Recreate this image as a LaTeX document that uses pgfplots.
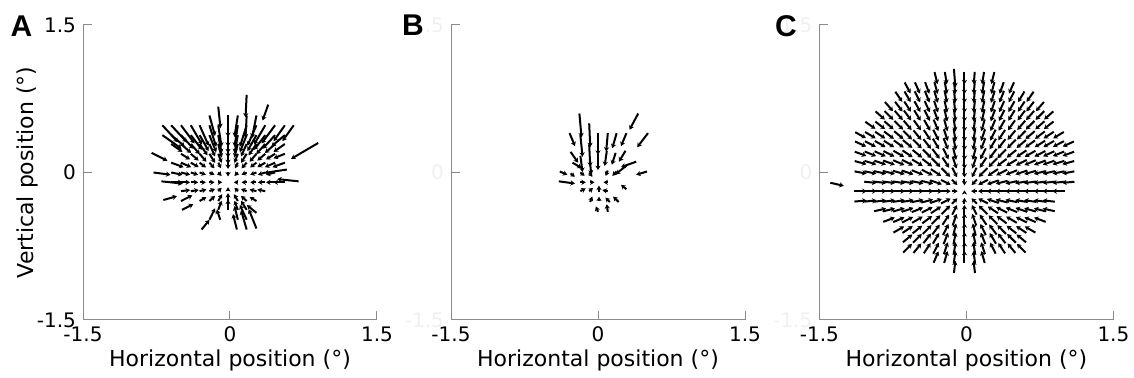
\documentclass[border=0pt]{standalone}
\usepackage{pgfplots}
\pgfplotsset{compat=1.18}
\usepackage{fontspec}
\setmainfont{DejaVu Sans}
\newfontfamily\labfont{Liberation Sans}
\usetikzlibrary{arrows.meta}
\definecolor{axgray}{gray}{0.55}
\pgfplotsset{panel/.style={
  scale only axis, width=147pt, height=147.5pt,
  xmin=-1.5, xmax=1.5, ymin=-1.5, ymax=1.5,
  axis x line*=bottom, axis y line*=left,
  axis line style={draw=axgray, line width=0.5pt},
  xtick={-1.5,0,1.5}, ytick={-1.5,0,1.5},
  xticklabels={-1.5,0,1.5}, yticklabels={-1.5,0,1.5},
  tick align=inside, major tick length=4.5pt,
  tick style={draw=axgray, line width=0.5pt},
  tick label style={font=\fontsize{10}{12}\selectfont},
  xlabel={Horizontal position (°)},
  xlabel style={font=\fontsize{11}{13}\selectfont, at={(rel axis cs:0.5,0)}, anchor=center, yshift=-20pt},
  anchor=south west,
},
arr/.style={black, line width=1pt, -{Stealth[length=2.2pt,width=2.6pt]}},
faint/.style={yticklabel style={text=black!6}}}
\begin{document}
\begin{tikzpicture}
\useasboundingbox (0,0) rectangle (567pt,189pt);
% ---------------- A ----------------
\begin{axis}[panel, at={(41.5pt,29pt)},
  ylabel={Vertical position (°)},
  ylabel style={font=\fontsize{11}{13}\selectfont, at={(rel axis cs:0,0.5)}, anchor=center, yshift=28pt}]
\addplot[arr, quiver={u=\thisrow{u}, v=\thisrow{v}, scale arrows=1.15}] table {
x y u v
0.17 0.79 -0.01 -0.20
0.39 0.69 -0.05 -0.14
-0.21 0.58 0.05 -0.18
-0.12 0.67 0.02 -0.19
-0.02 0.58 0 -0.19
0.08 0.58 -0.03 -0.19
0.17 0.58 -0.01 -0.20
0.27 0.58 -0.04 -0.20
-0.69 0.48 0.14 -0.15
-0.60 0.48 0.14 -0.15
-0.50 0.48 0.12 -0.16
-0.40 0.48 0.10 -0.17
-0.31 0.48 0.08 -0.18
-0.21 0.48 0.06 -0.19
-0.12 0.48 0.03 -0.19
-0.02 0.48 0 -0.19
0.08 0.48 -0.03 -0.19
0.17 0.48 -0.06 -0.19
0.27 0.48 -0.08 -0.18
0.36 0.48 -0.10 -0.17
0.46 0.48 -0.12 -0.16
0.56 0.48 -0.10 -0.14
0.65 0.48 -0.10 -0.14
-0.69 0.38 0.17 -0.12
-0.60 0.38 0.12 -0.10
-0.50 0.38 0.11 -0.12
-0.40 0.38 0.10 -0.13
-0.31 0.38 0.08 -0.14
-0.21 0.38 0.06 -0.15
-0.12 0.38 0.03 -0.16
-0.02 0.38 0 -0.16
0.08 0.38 -0.03 -0.16
0.17 0.38 -0.06 -0.15
0.27 0.38 -0.08 -0.14
0.36 0.38 -0.10 -0.13
0.46 0.38 -0.11 -0.12
0.56 0.38 -0.12 -0.10
-0.60 0.29 0.10 -0.07
-0.50 0.29 0.09 -0.08
-0.40 0.29 0.08 -0.09
-0.31 0.29 0.07 -0.10
-0.21 0.29 0.05 -0.11
-0.12 0.29 0.03 -0.12
-0.02 0.29 0 -0.12
0.08 0.29 -0.03 -0.12
0.17 0.29 -0.05 -0.11
0.27 0.29 -0.07 -0.10
0.36 0.29 -0.08 -0.09
0.46 0.29 -0.09 -0.08
0.56 0.29 -0.10 -0.07
0.90 0.30 -0.24 -0.14
-0.80 0.20 0.14 -0.07
-0.50 0.19 0.08 -0.05
-0.40 0.19 0.07 -0.06
-0.31 0.19 0.06 -0.07
-0.21 0.19 0.05 -0.08
-0.12 0.19 0.03 -0.08
-0.02 0.19 0 -0.09
0.08 0.19 -0.03 -0.08
0.17 0.19 -0.05 -0.08
0.27 0.19 -0.06 -0.07
0.36 0.19 -0.07 -0.06
0.46 0.19 -0.08 -0.05
0.56 0.19 -0.10 -0.04
-0.60 0.10 0.11 -0.04
-0.50 0.10 0.09 -0.04
-0.40 0.10 0.07 -0.04
-0.31 0.10 0.056 -0.042
-0.21 0.10 0.045 -0.05
-0.12 0.10 0.025 -0.05
-0.02 0.10 0 -0.055
0.08 0.10 -0.025 -0.05
0.17 0.10 -0.045 -0.05
0.27 0.10 -0.056 -0.042
0.36 0.10 -0.07 -0.04
0.46 0.10 -0.09 -0.04
0.56 0.10 -0.11 -0.04
-0.78 0 0.15 -0.02
-0.60 0 0.10 -0.02
-0.50 0 0.08 -0.02
-0.40 0 0.065 -0.02
-0.31 0 0.055 -0.02
-0.21 0 0.045 -0.02
-0.12 0 0.03 -0.03
-0.02 0 0 -0.035
0.08 0 -0.03 -0.03
0.17 0 -0.045 -0.02
0.27 0 -0.055 -0.02
0.36 0 -0.065 -0.02
0.46 0 -0.08 -0.02
0.58 0.03 -0.20 -0.03
-0.70 -0.09 0.19 -0.02
-0.60 -0.10 0.10 0
-0.50 -0.10 0.08 0
-0.40 -0.10 0.065 0
-0.31 -0.10 0.055 0
-0.21 -0.10 0.045 0
-0.12 -0.10 0.035 0
0.08 -0.10 -0.035 0
0.17 -0.10 -0.045 0
0.27 -0.10 -0.055 0
0.36 -0.10 -0.065 0
0.46 -0.10 -0.08 0
0.56 -0.10 -0.10 0
0.70 -0.09 -0.19 0.02
-0.50 -0.19 0.08 0.01
-0.40 -0.19 0.07 0.01
-0.31 -0.19 0.06 0.015
-0.21 -0.19 0.05 0.02
-0.12 -0.19 0.03 0.03
-0.02 -0.19 0 0.035
0.08 -0.19 -0.03 0.03
0.17 -0.19 -0.05 0.02
0.27 -0.19 -0.06 0.015
0.36 -0.19 -0.07 0.015
-0.68 -0.28 0.12 0.034
-0.50 -0.29 0.10 0.05
-0.31 -0.29 0.06 0.035
-0.21 -0.29 0.05 0.045
-0.12 -0.29 0.035 0.06
-0.02 -0.29 0 0.07
0.08 -0.29 -0.035 0.06
0.17 -0.29 -0.05 0.045
0.27 -0.29 -0.06 0.035
-0.49 -0.38 0.10 0.05
-0.12 -0.38 0.03 0.08
-0.02 -0.38 0 0.09
0.08 -0.38 -0.03 0.08
0.17 -0.38 -0.05 0.08
0.27 -0.41 -0.085 0.068
-0.21 -0.48 0.05 0.10
-0.10 -0.48 -0.03 0.09
0.08 -0.48 -0.03 0.12
0.17 -0.48 -0.06 0.13
-0.29 -0.58 0.07 0.085
0.07 -0.58 -0.034 0.136
0.17 -0.58 -0.05 0.17
0.27 -0.57 -0.068 0.17
};
\end{axis}
% ---------------- B ----------------
\begin{axis}[panel, faint, at={(225.5pt,29pt)}]
\addplot[arr, quiver={u=\thisrow{u}, v=\thisrow{v}, scale arrows=1.1}] table {
x y u v
-0.19 0.60 0.02 -0.22
-0.18 0.38 0.02 -0.20
-0.18 0.17 0.02 -0.15
-0.09 0.50 0.01 -0.22
-0.09 0.28 0.01 -0.20
-0.08 0.09 0.01 -0.10
0.00 0.40 0 -0.20
0.00 0.19 0 -0.15
0.10 0.40 -0.015 -0.17
0.09 0.22 -0.02 -0.14
0.19 0.40 -0.04 -0.14
0.18 0.20 -0.035 -0.11
0.29 0.40 -0.05 -0.12
0.28 0.22 -0.06 -0.10
0.41 0.60 -0.08 -0.15
0.51 0.40 -0.10 -0.13
-0.29 0.40 0.05 -0.12
-0.28 0.21 0.07 -0.10
-0.26 0.10 0.085 -0.05
-0.39 0.01 0.07 -0.03
-0.40 -0.09 0.15 -0.02
-0.28 -0.01 0.04 -0.03
-0.18 -0.10 0.05 0
-0.18 0.00 0.04 -0.03
-0.09 0.00 0.03 -0.04
-0.08 -0.10 0.04 0
0.39 0.11 -0.14 -0.05
0.29 0.07 -0.10 -0.08
0.50 0.01 -0.10 -0.03
0.19 0.01 -0.04 -0.04
0.10 0.02 -0.02 -0.05
0.10 -0.10 -0.04 0
-0.18 -0.19 0.05 0.025
-0.09 -0.19 0.035 0.03
0.01 -0.20 0 0.06
0.10 -0.19 -0.05 0.01
0.29 -0.17 -0.05 0.04
-0.08 -0.30 0.02 0.05
0.01 -0.29 0 0.04
0.12 -0.30 -0.04 0.04
0.21 -0.30 -0.05 0.05
0.00 -0.40 -0.02 0.05
0.10 -0.40 -0.01 0.07
};
\end{axis}
% ---------------- C ----------------
\begin{axis}[panel, faint, at={(409.7pt,29pt)}]
\addplot[arr, quiver={u=\thisrow{u}, v=\thisrow{v}, scale arrows=1.25}] table[x expr=\thisrow{x}-0.625*\thisrow{u}, y expr=\thisrow{y}-0.625*\thisrow{v}] {
x y u v
-0.31 0.96 0.024 -0.097
-0.21 0.96 0.016 -0.099
-0.12 0.96 0.012 -0.150
-0.02 0.96 0 -0.100
0.08 0.96 -0.008 -0.100
0.17 0.96 -0.016 -0.099
0.27 0.96 -0.024 -0.097
-0.60 0.86 0.048 -0.088
-0.50 0.86 0.041 -0.091
-0.40 0.86 0.034 -0.094
-0.31 0.86 0.026 -0.096
-0.21 0.86 0.018 -0.098
-0.12 0.86 0.009 -0.100
-0.02 0.86 0 -0.100
0.08 0.86 -0.009 -0.100
0.17 0.86 -0.018 -0.098
0.27 0.86 -0.026 -0.096
0.36 0.86 -0.034 -0.094
0.46 0.86 -0.041 -0.091
-0.69 0.77 0.057 -0.082
-0.60 0.77 0.051 -0.086
-0.50 0.77 0.045 -0.089
-0.40 0.77 0.037 -0.093
-0.31 0.77 0.029 -0.096
-0.21 0.77 0.020 -0.098
-0.12 0.77 0.010 -0.100
-0.02 0.77 0 -0.100
0.08 0.77 -0.010 -0.100
0.17 0.77 -0.020 -0.098
0.27 0.77 -0.029 -0.096
0.36 0.77 -0.037 -0.093
0.46 0.77 -0.045 -0.089
0.56 0.77 -0.051 -0.086
0.65 0.77 -0.057 -0.082
-0.79 0.67 0.066 -0.075
-0.69 0.67 0.061 -0.079
-0.60 0.67 0.055 -0.083
-0.50 0.67 0.049 -0.087
-0.40 0.67 0.041 -0.091
-0.31 0.67 0.032 -0.095
-0.21 0.67 0.022 -0.098
-0.12 0.67 0.011 -0.099
-0.02 0.67 0 -0.100
0.08 0.67 -0.011 -0.099
0.17 0.67 -0.022 -0.098
0.27 0.67 -0.032 -0.095
0.36 0.67 -0.041 -0.091
0.46 0.67 -0.049 -0.087
0.56 0.67 -0.055 -0.083
0.65 0.67 -0.061 -0.079
0.75 0.67 -0.066 -0.075
-0.88 0.58 0.075 -0.066
-0.79 0.58 0.071 -0.071
-0.69 0.58 0.066 -0.075
-0.60 0.58 0.060 -0.080
-0.50 0.58 0.053 -0.085
-0.40 0.58 0.045 -0.089
-0.31 0.58 0.035 -0.094
-0.21 0.58 0.024 -0.097
-0.12 0.58 0.012 -0.099
-0.02 0.58 0 -0.100
0.08 0.58 -0.012 -0.099
0.17 0.58 -0.024 -0.097
0.27 0.58 -0.035 -0.094
0.36 0.58 -0.045 -0.089
0.46 0.58 -0.053 -0.085
0.56 0.58 -0.060 -0.080
0.65 0.58 -0.066 -0.075
0.75 0.58 -0.071 -0.071
0.84 0.58 -0.075 -0.066
-0.98 0.48 0.082 -0.057
-0.88 0.48 0.079 -0.061
-0.79 0.48 0.075 -0.066
-0.69 0.48 0.071 -0.071
-0.60 0.48 0.065 -0.076
-0.50 0.48 0.058 -0.081
-0.40 0.48 0.050 -0.087
-0.31 0.48 0.039 -0.092
-0.21 0.48 0.027 -0.096
-0.12 0.48 0.014 -0.099
-0.02 0.48 0 -0.100
0.08 0.48 -0.014 -0.099
0.17 0.48 -0.027 -0.096
0.27 0.48 -0.039 -0.092
0.36 0.48 -0.050 -0.087
0.46 0.48 -0.058 -0.081
0.56 0.48 -0.065 -0.076
0.65 0.48 -0.071 -0.071
0.75 0.48 -0.075 -0.066
0.84 0.48 -0.079 -0.061
-1.08 0.38 0.088 -0.048
-0.98 0.38 0.086 -0.051
-0.88 0.38 0.083 -0.055
-0.79 0.38 0.080 -0.060
-0.69 0.38 0.076 -0.065
-0.60 0.38 0.071 -0.071
-0.50 0.38 0.064 -0.077
-0.40 0.38 0.055 -0.083
-0.31 0.38 0.045 -0.089
-0.21 0.38 0.032 -0.095
-0.12 0.38 0.016 -0.099
-0.02 0.38 0 -0.100
0.08 0.38 -0.016 -0.099
0.17 0.38 -0.032 -0.095
0.27 0.38 -0.045 -0.089
0.36 0.38 -0.055 -0.083
0.46 0.38 -0.064 -0.077
0.56 0.38 -0.071 -0.071
0.65 0.38 -0.076 -0.065
0.75 0.38 -0.080 -0.060
0.84 0.38 -0.083 -0.055
0.94 0.38 -0.086 -0.051
-1.08 0.29 0.091 -0.041
-0.98 0.29 0.089 -0.045
-0.88 0.29 0.087 -0.049
-0.79 0.29 0.085 -0.053
-0.69 0.29 0.081 -0.058
-0.60 0.29 0.077 -0.064
-0.50 0.29 0.071 -0.071
-0.40 0.29 0.062 -0.078
-0.31 0.29 0.051 -0.086
-0.21 0.29 0.037 -0.093
-0.12 0.29 0.020 -0.098
-0.02 0.29 0 -0.100
0.08 0.29 -0.020 -0.098
0.17 0.29 -0.037 -0.093
0.27 0.29 -0.051 -0.086
0.36 0.29 -0.062 -0.078
0.46 0.29 -0.071 -0.071
0.56 0.29 -0.077 -0.064
0.65 0.29 -0.081 -0.058
0.75 0.29 -0.085 -0.053
0.84 0.29 -0.087 -0.049
0.94 0.29 -0.089 -0.045
1.04 0.29 -0.091 -0.041
-1.08 0.19 0.094 -0.034
-0.98 0.19 0.093 -0.037
-0.88 0.19 0.091 -0.041
-0.79 0.19 0.089 -0.045
-0.69 0.19 0.087 -0.050
-0.60 0.19 0.083 -0.055
-0.50 0.19 0.078 -0.062
-0.40 0.19 0.071 -0.071
-0.31 0.19 0.060 -0.080
-0.21 0.19 0.045 -0.089
-0.12 0.19 0.024 -0.097
-0.02 0.19 0 -0.100
0.08 0.19 -0.024 -0.097
0.17 0.19 -0.045 -0.089
0.27 0.19 -0.060 -0.080
0.36 0.19 -0.071 -0.071
0.46 0.19 -0.078 -0.062
0.56 0.19 -0.083 -0.055
0.65 0.19 -0.087 -0.050
0.75 0.19 -0.089 -0.045
0.84 0.19 -0.091 -0.041
0.94 0.19 -0.093 -0.037
1.04 0.19 -0.094 -0.034
-1.08 0.10 0.096 -0.026
-0.98 0.10 0.096 -0.029
-0.88 0.10 0.095 -0.032
-0.79 0.10 0.094 -0.035
-0.69 0.10 0.092 -0.039
-0.60 0.10 0.089 -0.045
-0.50 0.10 0.086 -0.051
-0.40 0.10 0.080 -0.060
-0.31 0.10 0.071 -0.071
-0.21 0.10 0.055 -0.083
-0.12 0.10 0.032 -0.095
-0.02 0.10 0 -0.100
0.08 0.10 -0.032 -0.095
0.17 0.10 -0.055 -0.083
0.27 0.10 -0.071 -0.071
0.36 0.10 -0.080 -0.060
0.46 0.10 -0.086 -0.051
0.56 0.10 -0.089 -0.045
0.65 0.10 -0.092 -0.039
0.75 0.10 -0.094 -0.035
0.84 0.10 -0.095 -0.032
0.94 0.10 -0.096 -0.029
1.04 0.10 -0.096 -0.026
-1.08 0 0.098 -0.018
-0.98 0 0.098 -0.020
-0.88 0 0.098 -0.022
-0.79 0 0.097 -0.024
-0.69 0 0.096 -0.027
-0.60 0 0.095 -0.032
-0.50 0 0.093 -0.037
-0.40 0 0.089 -0.045
-0.31 0 0.083 -0.055
-0.21 0 0.071 -0.071
-0.12 0 0.039 -0.078
-0.02 0 0 -0.080
0.08 0 -0.039 -0.078
0.17 0 -0.071 -0.071
0.27 0 -0.083 -0.055
0.36 0 -0.089 -0.045
0.46 0 -0.093 -0.037
0.56 0 -0.095 -0.032
0.65 0 -0.096 -0.027
0.75 0 -0.097 -0.024
0.84 0 -0.098 -0.022
0.94 0 -0.098 -0.020
1.04 0 -0.098 -0.018
-0.98 -0.10 0.100 -0.010
-0.88 -0.10 0.099 -0.011
-0.79 -0.10 0.099 -0.012
-0.69 -0.10 0.099 -0.014
-0.60 -0.10 0.099 -0.016
-0.50 -0.10 0.098 -0.020
-0.40 -0.10 0.097 -0.024
-0.31 -0.10 0.095 -0.032
-0.21 -0.10 0.078 -0.039
-0.12 -0.10 0.044 -0.044
-0.02 -0.10 0 -0.050
0.08 -0.10 -0.044 -0.044
0.17 -0.10 -0.078 -0.039
0.27 -0.10 -0.095 -0.032
0.36 -0.10 -0.097 -0.024
0.46 -0.10 -0.098 -0.020
0.56 -0.10 -0.099 -0.016
0.65 -0.10 -0.099 -0.014
0.75 -0.10 -0.099 -0.012
0.84 -0.10 -0.099 -0.011
0.94 -0.10 -0.100 -0.010
1.04 -0.10 -0.100 -0.009
-1.08 -0.19 0.100 0
-0.98 -0.19 0.100 0
-0.88 -0.19 0.100 0
-0.79 -0.19 0.100 0
-0.69 -0.19 0.100 0
-0.60 -0.19 0.100 0
-0.50 -0.19 0.100 0
-0.40 -0.19 0.100 0
-0.31 -0.19 0.100 0
-0.21 -0.19 0.080 0
-0.12 -0.19 0.050 0
-0.02 -0.19 0 0.015
0.08 -0.19 -0.050 0
0.17 -0.19 -0.080 0
0.27 -0.19 -0.100 0
0.36 -0.19 -0.100 0
0.46 -0.19 -0.100 0
0.56 -0.19 -0.100 0
0.65 -0.19 -0.100 0
0.75 -0.19 -0.100 0
0.84 -0.19 -0.100 0
0.94 -0.19 -0.100 0
-1.08 -0.29 0.100 0.009
-0.98 -0.29 0.100 0.010
-0.88 -0.29 0.099 0.011
-0.79 -0.29 0.099 0.012
-0.69 -0.29 0.099 0.014
-0.60 -0.29 0.099 0.016
-0.50 -0.29 0.098 0.020
-0.40 -0.29 0.097 0.024
-0.31 -0.29 0.095 0.032
-0.21 -0.29 0.078 0.039
-0.12 -0.29 0.044 0.044
-0.02 -0.29 0 0.050
0.08 -0.29 -0.044 0.044
0.17 -0.29 -0.078 0.039
0.27 -0.29 -0.095 0.032
0.36 -0.29 -0.097 0.024
0.46 -0.29 -0.098 0.020
0.56 -0.29 -0.099 0.016
0.65 -0.29 -0.099 0.014
0.75 -0.29 -0.099 0.012
0.84 -0.29 -0.099 0.011
-0.88 -0.38 0.098 0.022
-0.79 -0.38 0.097 0.024
-0.69 -0.38 0.096 0.027
-0.60 -0.38 0.095 0.032
-0.50 -0.38 0.093 0.037
-0.40 -0.38 0.089 0.045
-0.31 -0.38 0.083 0.055
-0.21 -0.38 0.071 0.071
-0.12 -0.38 0.039 0.078
-0.02 -0.38 0 0.080
0.08 -0.38 -0.039 0.078
0.17 -0.38 -0.071 0.071
0.27 -0.38 -0.083 0.055
0.36 -0.38 -0.089 0.045
0.46 -0.38 -0.093 0.037
0.56 -0.38 -0.095 0.032
0.65 -0.38 -0.096 0.027
0.75 -0.38 -0.097 0.024
0.84 -0.38 -0.098 0.022
-0.79 -0.48 0.094 0.035
-0.69 -0.48 0.092 0.039
-0.60 -0.48 0.089 0.045
-0.50 -0.48 0.086 0.051
-0.40 -0.48 0.080 0.060
-0.31 -0.48 0.071 0.071
-0.21 -0.48 0.055 0.083
-0.12 -0.48 0.032 0.095
-0.02 -0.48 0 0.100
0.08 -0.48 -0.032 0.095
0.17 -0.48 -0.055 0.083
0.27 -0.48 -0.071 0.071
0.36 -0.48 -0.080 0.060
0.46 -0.48 -0.086 0.051
0.56 -0.48 -0.089 0.045
0.65 -0.48 -0.092 0.039
0.75 -0.48 -0.094 0.035
-0.69 -0.58 0.087 0.050
-0.60 -0.58 0.083 0.055
-0.50 -0.58 0.078 0.062
-0.40 -0.58 0.071 0.071
-0.31 -0.58 0.060 0.080
-0.21 -0.58 0.045 0.089
-0.12 -0.58 0.024 0.097
-0.02 -0.58 0 0.100
0.08 -0.58 -0.024 0.097
0.17 -0.58 -0.045 0.089
0.27 -0.58 -0.060 0.080
0.36 -0.58 -0.071 0.071
0.46 -0.58 -0.078 0.062
0.56 -0.58 -0.083 0.055
0.65 -0.58 -0.087 0.050
-0.60 -0.67 0.077 0.064
-0.50 -0.67 0.071 0.071
-0.40 -0.67 0.062 0.078
-0.31 -0.67 0.051 0.086
-0.21 -0.67 0.037 0.093
-0.12 -0.67 0.020 0.098
-0.02 -0.67 0 0.100
0.08 -0.67 -0.020 0.098
0.17 -0.67 -0.037 0.093
0.27 -0.67 -0.051 0.086
0.36 -0.67 -0.062 0.078
0.46 -0.67 -0.071 0.071
0.56 -0.67 -0.077 0.064
-0.60 -0.77 0.071 0.071
-0.50 -0.77 0.064 0.077
-0.40 -0.77 0.055 0.083
-0.31 -0.77 0.045 0.089
-0.21 -0.77 0.032 0.095
-0.12 -0.77 0.016 0.099
-0.02 -0.77 0 0.100
0.08 -0.77 -0.016 0.099
0.17 -0.77 -0.032 0.095
0.27 -0.77 -0.045 0.089
0.36 -0.77 -0.055 0.083
0.46 -0.77 -0.064 0.077
0.56 -0.77 -0.071 0.071
-0.31 -0.86 0.039 0.092
-0.21 -0.86 0.027 0.096
-0.12 -0.86 0.014 0.099
-0.02 -0.86 0 0.100
0.08 -0.86 -0.014 0.099
0.17 -0.86 -0.027 0.096
-0.12 -0.96 0.012 0.099
0.08 -0.96 -0.012 0.099
-1.32 -0.12 0.110 -0.025
};
\end{axis}
\node[font=\labfont\bfseries\fontsize{15}{17}\selectfont] at (10.75pt,176pt) {A};
\node[font=\labfont\bfseries\fontsize{15}{17}\selectfont] at (206.5pt,176.5pt) {B};
\node[font=\labfont\bfseries\fontsize{15}{17}\selectfont] at (393pt,176pt) {C};
\end{tikzpicture}
\end{document}
